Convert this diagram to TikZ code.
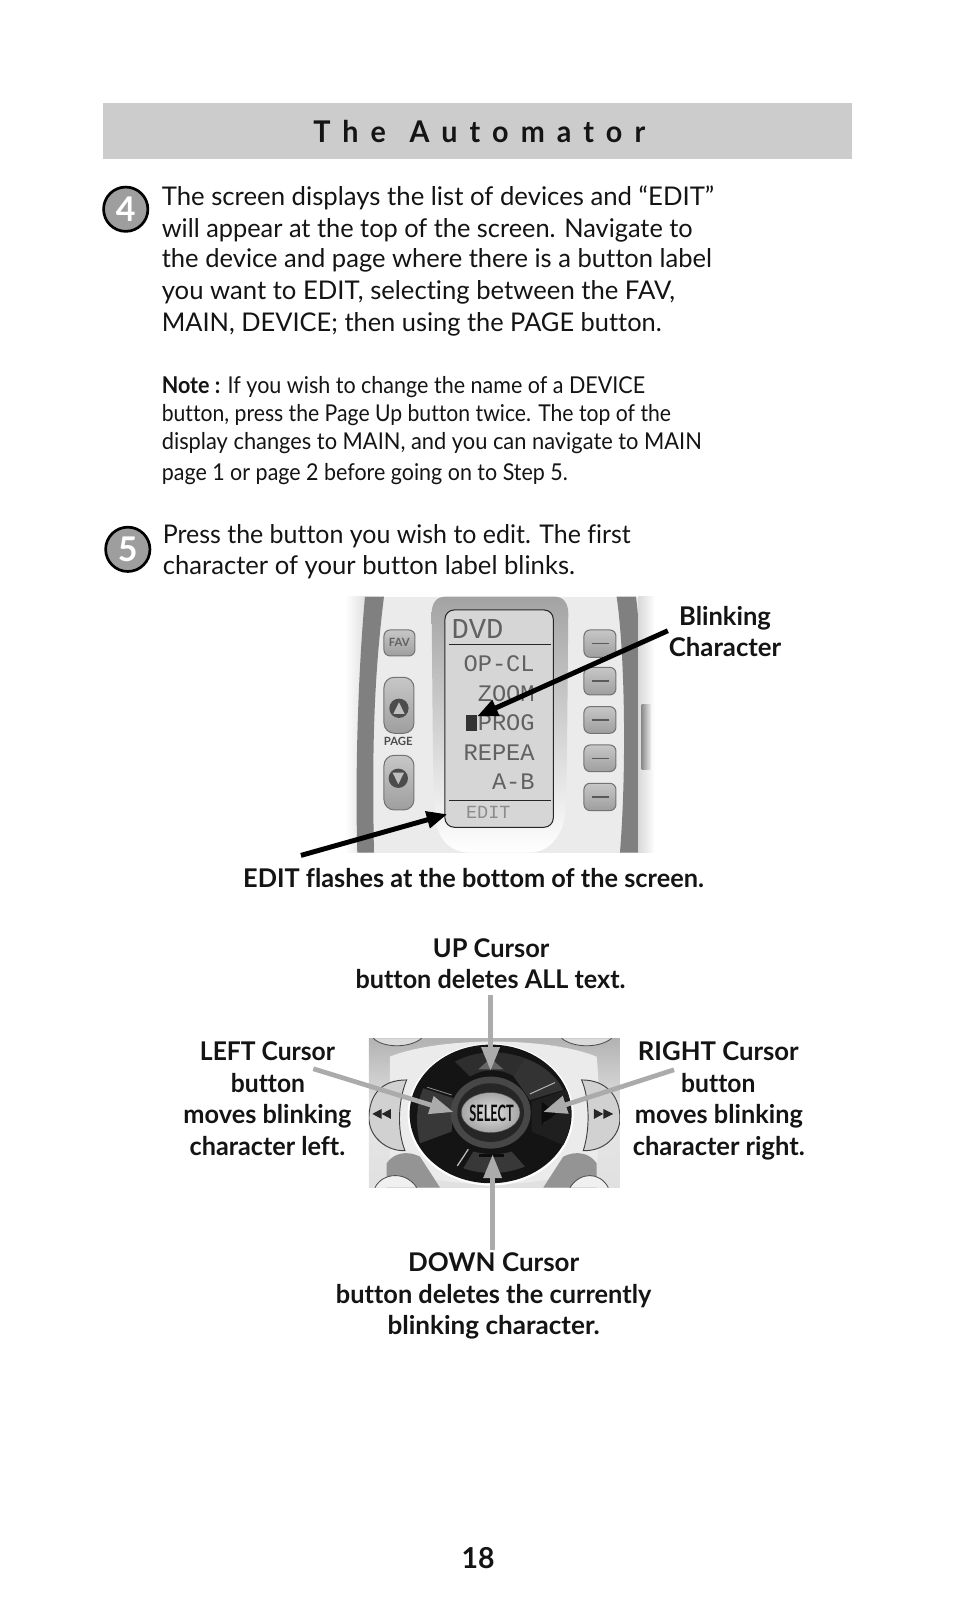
\documentclass[tikz,border=0pt]{standalone}
\usepackage{graphicx}
\usepackage{fontspec}
\setmainfont[Ligatures=NoCommon]{Lato}
\newfontfamily\lcdfont{Liberation Mono}
\usetikzlibrary{arrows.meta,shapes.geometric}
\newcommand{\tline}[5]{\node[linetext,#1] (#2) at #3 {\resizebox{#4pt}{\height}{#5}};}
\tikzset{
  linetext/.style={inner sep=0pt,outer sep=0pt,anchor=base west,text=black!92},
  bodytext/.style={font=\fontsize{25}{30}\selectfont},
  notetext/.style={font=\fontsize{22.5}{27}\selectfont},
  boldtext/.style={font=\fontsize{25}{30}\selectfont\bfseries},
  titletext/.style={font=\fontsize{29}{34}\selectfont\bfseries},
  numtext/.style={font=\fontsize{28}{30}\selectfont\bfseries},
  stepdisc/.style={circle,draw=black,line width=2.6pt,fill=black!38,minimum size=43pt,inner sep=0pt,text=white,font=\fontsize{33}{33}\selectfont\bfseries},
  blackarrow/.style={draw=black,line width=4.8pt,-{Triangle[length=20pt,width=16pt]}},
  greyarrow/.style={draw=black!33,line width=4.6pt,-{Triangle[length=23pt,width=17pt]}},
  lcd/.style={inner sep=0pt,anchor=base east,text=black!62,font=\lcdfont\fontsize{23}{24}\selectfont},
  softkey/.style={draw=black!55,line width=1pt,rounded corners=6pt,top color=black!22,bottom color=black!38},
  pagekey/.style={softkey,rounded corners=10pt},
}
\begin{document}
\begin{tikzpicture}[x=1pt,y=-1pt]
\useasboundingbox (0,0) rectangle (925.6,1568);
\fill[white] (0,0) rectangle (925.6,1568);
% title bar
\fill[black!20] (100,100) rectangle (827,154);
\tline{titletext}{title}{(304,138)}{322}{\addfontfeature{LetterSpace=42}The\hspace{24pt}Automator}
% step 4
\node[stepdisc] (stepfour) at (122,203) {4};
\tline{bodytext}{a1}{(157,199)}{536}{The screen displays the list of devices and “EDIT”}
\tline{bodytext}{a2}{(157,230)}{515}{will appear at the top of the screen. Navigate to}
\tline{bodytext}{a3}{(157,260)}{534}{the device and page where there is a button label}
\tline{bodytext}{a4}{(157,291)}{498}{you want to EDIT, selecting between the FAV,}
\tline{bodytext}{a5}{(157,322)}{485}{MAIN, DEVICE; then using the PAGE button.}
\tline{notetext}{n1}{(157,382)}{469}{\textbf{Note :} If you wish to change the name of a DEVICE}
\tline{notetext}{n2}{(157,409)}{494}{button, press the Page Up button twice. The top of the}
\tline{notetext}{n3}{(157,436)}{524}{display changes to MAIN, and you can navigate to MAIN}
\tline{notetext}{n4}{(157,466)}{394}{page 1 or page 2 before going on to Step 5.}
% step 5
\node[stepdisc] (stepfive) at (124,533) {5};
\tline{bodytext}{b1}{(158,527)}{454}{Press the button you wish to edit. The first}
\tline{bodytext}{b2}{(158,557)}{400}{character of your button label blinks.}

% remote illustration (coordinates are in zoomed pixels)
\begin{scope}[shift={(320.17,553.02)},scale=0.32341]
  \begin{scope}
    \clip (45,80) rectangle (975,848);
    \shade[left color=white,right color=black!12] (45,80) rectangle (105,848);
    \fill[black!8] (105,80) rectangle (930,848);
    \fill[black!50] (105,80) .. controls (85,300) and (75,600) .. (82,848) -- (132,848) .. controls (125,500) and (135,300) .. (162,80) -- cycle;
    \fill[black!50] (860,80) .. controls (885,250) and (890,600) .. (870,848) -- (925,848) .. controls (945,600) and (940,250) .. (918,80) -- cycle;
    \shade[left color=black!15,right color=white] (925,80) rectangle (975,848);
    \shade[left color=black!45,right color=black!8] (935,405) rectangle (962,600);
    \shade[top color=black!36,bottom color=white] (305,130) .. controls (305,100) and (320,80) .. (345,80) -- (675,80) .. controls (700,80) and (715,100) .. (715,130) .. controls (712,400) and (712,650) .. (705,740) .. controls (690,820) and (640,848) .. (600,848) -- (420,848) .. controls (370,848) and (325,820) .. (315,740) .. controls (308,650) and (308,400) .. (305,130) -- cycle;
  \end{scope}
  % screen
  \fill[black!16,draw=black!85,line width=1pt,rounded corners=9pt] (345,120) rectangle (670,772);
  \draw[black!85,line width=.8pt] (358,223) -- (662,223);
  \draw[black!85,line width=.8pt] (358,690) -- (662,690);
  \fill[black!80] (408,435) rectangle (442,482);
  % left keys
  \draw[softkey] (162,180) rectangle (255,258);
  \node[inner sep=0pt,text=black!62,font=\fontsize{11}{11}\selectfont\bfseries] (fav) at (208,218) {FAV};
  \draw[pagekey] (162,322) rectangle (252,490);
  \draw[pagekey] (162,556) rectangle (252,720);
  \fill[black!70] (207,415) circle (29);
  \fill[black!25] (207,397) -- (224,432) -- (190,432) -- cycle;
  \fill[black!70] (205,625) circle (29);
  \fill[black!25] (205,643) -- (222,608) -- (188,608) -- cycle;
  \node[inner sep=0pt,text=black!70,font=\fontsize{11}{11}\selectfont\bfseries] (pagelabel) at (205,515) {PAGE};
  % right keys
  \foreach \ytop/\ybot in {180/262,292/375,410/490,525/605,640/722}{
    \draw[softkey] (762,\ytop) rectangle (858,\ybot);
    \draw[black!65,line width=1.5pt] (785,{(\ytop+\ybot)/2}) -- (837,{(\ytop+\ybot)/2});
  }
\end{scope}
\node[lcd,anchor=base west,font=\lcdfont\fontsize{28}{29}\selectfont] (lcddvd) at (438,620) {DVD};
\node[lcd] (lcdone) at (519,652) {OP-CL};
\node[lcd] (lcdtwo) at (519,681) {ZOOM};
\node[lcd] (lcdthree) at (519,709) {PROG};
\node[lcd] (lcdfour) at (519,738) {REPEA};
\node[lcd] (lcdfive) at (519,766) {A-B};
\node[lcd,anchor=base west,text=black!45,font=\lcdfont\fontsize{18}{19}\selectfont] (lcdedit) at (452,794) {EDIT};

% navigation pad illustration (coordinates are in zoomed pixels)
\begin{scope}[shift={(329.87,960.52)},scale=0.32341]
  \begin{scope}
    \clip (87,145) rectangle (840,593);
    \shade[top color=black!30,bottom color=black!12,middle color=black!10] (87,145) rectangle (840,593);
    \fill[black!8] (150,200) .. controls (300,140) and (620,140) .. (770,200) .. controls (780,300) and (780,440) .. (770,530) .. controls (600,600) and (300,600) .. (150,530) -- cycle;
    \fill[black!42] (140,520) .. controls (160,490) and (200,480) .. (240,500) -- (300,593) -- (140,593) -- cycle;
    \fill[black!42] (770,520) .. controls (750,490) and (710,480) .. (670,500) -- (610,593) -- (770,593) -- cycle;
    \draw[black!70,line width=.8pt,fill=black!14] (100,145) .. controls (130,175) and (210,175) .. (245,145);
    \draw[black!70,line width=.8pt,fill=black!14] (665,145) .. controls (700,175) and (780,175) .. (815,145);
    \draw[black!70,line width=.8pt,fill=black!6] (105,593) .. controls (130,545) and (200,545) .. (230,593);
    \draw[black!70,line width=.8pt,fill=black!6] (690,593) .. controls (720,545) and (780,545) .. (805,593);
    % side buttons
    \draw[black!75,line width=.9pt,fill=black!18] (200,270) .. controls (120,270) and (87,320) .. (87,385) .. controls (87,440) and (140,485) .. (195,482) .. controls (170,420) and (175,330) .. (200,270) -- cycle;
    \draw[black!75,line width=.9pt,fill=black!18] (725,270) .. controls (800,270) and (840,320) .. (840,385) .. controls (840,440) and (790,485) .. (730,482) .. controls (750,420) and (750,330) .. (725,270) -- cycle;
    \fill[black!85] (97,372) -- (125,357) -- (125,387) -- cycle;
    \fill[black!85] (125,372) -- (153,357) -- (153,387) -- cycle;
    \fill[black!85] (820,372) -- (790,357) -- (790,387) -- cycle;
    \fill[black!85] (790,372) -- (762,357) -- (762,387) -- cycle;
    % disc
    \fill[white] (452,374) ellipse (249 and 213);
    \fill[black!92] (452,372) ellipse (243 and 208);
    \fill[black!82] (345,215) -- (390,260) .. controls (430,235) and (480,235) .. (520,258) -- (555,205) .. controls (490,180) and (410,180) .. (345,215) -- cycle;
    \fill[black!78] (250,295) -- (340,325) -- (335,425) -- (240,460) .. controls (225,400) and (230,340) .. (250,295) -- cycle;
    \fill[black!80] (520,258) -- (555,205) .. controls (610,225) and (650,260) .. (670,300) -- (570,330) -- cycle;
    \fill[black!88] (575,335) -- (680,300) .. controls (700,350) and (695,420) .. (670,465) -- (575,425) -- cycle;
    \fill[black!78] (370,535) -- (400,485) .. controls (440,495) and (480,495) .. (515,485) -- (555,530) .. controls (490,555) and (430,555) .. (370,535) -- cycle;
    \fill[black!72] (452,368) ellipse (120 and 108);
    \fill[black!85] (452,368) ellipse (100 and 88);
    \draw[black!30,line width=1pt] (570,312) -- (645,278);
    \draw[black!40,line width=1pt] (610,400) -- (650,360);
    \draw[black!25,line width=1.2pt] (352,528) -- (385,478);
    \draw[black!45,line width=.8pt] (262,292) -- (335,315);
    \fill[black!60] (415,238) -- (490,238) -- (452,205) -- cycle;
    \fill[black!95] (605,335) -- (605,405) -- (650,370) -- cycle;
    \fill[black!95] (418,492) rectangle (492,500);
  \end{scope}
  \shade[inner color=black!12,outer color=black!35,draw=black!70] (452,368) ellipse (88 and 60);
\end{scope}
\node[inner sep=0pt,text=black!95,font=\fontsize{15}{15}\selectfont\bfseries] (selectlabel) at (477,1080) {\resizebox{43pt}{16pt}{SELECT}};

% labels
\tline{boldtext}{blink}{(659,607)}{89}{Blinking}
\tline{boldtext}{charlab}{(649,637)}{109}{Character}
\tline{boldtext}{editflash}{(236,861)}{447}{EDIT flashes at the bottom of the screen.}
\tline{boldtext}{upa}{(420,929)}{113}{UP Cursor}
\tline{boldtext}{upb}{(345,959)}{262}{button deletes ALL text.}
\tline{boldtext}{la}{(194,1029)}{131}{LEFT Cursor}
\tline{boldtext}{lb}{(224,1060)}{72}{button}
\tline{boldtext}{lc}{(178,1090)}{163}{moves blinking}
\tline{boldtext}{ld}{(184,1121)}{151}{character left.}
\tline{boldtext}{ra}{(619,1029)}{156}{RIGHT Cursor}
\tline{boldtext}{rb}{(661,1060)}{72}{button}
\tline{boldtext}{rc}{(616,1090)}{163}{moves blinking}
\tline{boldtext}{rd}{(614,1121)}{167}{character right.}
\tline{boldtext}{da}{(396,1234)}{166}{DOWN Cursor}
\tline{boldtext}{db}{(326,1265)}{306}{button deletes the currently}
\tline{boldtext}{dc}{(376,1295)}{206}{blinking character.}
\tline{numtext}{pagenum}{(448,1522)}{32}{18}

% connectors
\coordinate (blinkfrom) at (648,612);
\coordinate (blinkto) at (463,695);
\coordinate (editfrom) at (292,830);
\coordinate (editto) at (434,790);
\coordinate (upfrom) at (476,965);
\coordinate (upto) at (476,1039);
\coordinate (leftfrom) at (304,1037);
\coordinate (leftto) at (440,1079);
\coordinate (rightfrom) at (654,1038);
\coordinate (rightto) at (527,1079);
\coordinate (downfrom) at (478,1213);
\coordinate (downto) at (478,1120);
\draw[blackarrow] (blinkfrom) -- (blinkto);
\draw[blackarrow] (editfrom) -- (editto);
\draw[greyarrow] (upfrom) -- (upto);
\draw[greyarrow] (leftfrom) -- (leftto);
\draw[greyarrow] (rightfrom) -- (rightto);
\draw[greyarrow] (downfrom) -- (downto);
\end{tikzpicture}
\end{document}
